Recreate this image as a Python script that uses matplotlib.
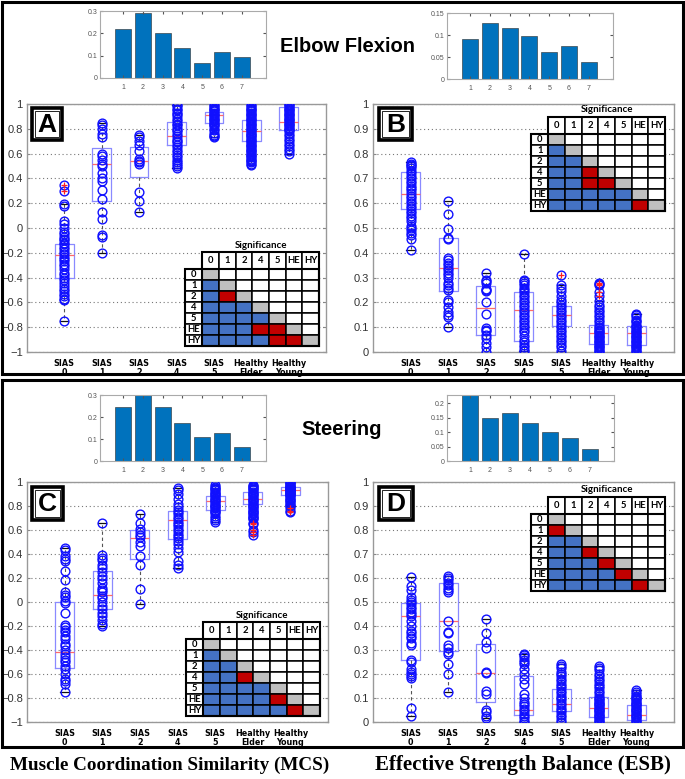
import numpy as np
import matplotlib
matplotlib.use("Agg")
import matplotlib.pyplot as plt
from matplotlib.patches import Rectangle

plt.rcParams['font.family'] = ['Liberation Sans', 'DejaVu Sans']

W, H = 685, 779

# ---------------- data ----------------
groups = ["SIAS\n0", "SIAS\n1", "SIAS\n2", "SIAS\n4", "SIAS\n5", "Healthy\nElder", "Healthy\nYoung"]
sig_labels = ["0", "1", "2", "4", "5", "HE", "HY"]

# histogram-like bar insets
bar_x = [1, 2, 3, 4, 5, 6, 7]
bars_elbow_mcs = [0.22, 0.29, 0.20, 0.135, 0.065, 0.115, 0.095]
bars_elbow_esb = [0.09, 0.127, 0.115, 0.097, 0.062, 0.075, 0.038]
bars_steer_mcs = [0.245, 0.30, 0.245, 0.172, 0.11, 0.127, 0.063]
bars_steer_esb = [0.229, 0.148, 0.166, 0.132, 0.101, 0.081, 0.040]

# Panel A (Elbow, MCS)
A_points = [
    [0.35, 0.30, 0.19, 0.18, 0.06, 0.03, 0.0, -0.03, -0.05, -0.07, -0.09, -0.10, -0.12, -0.13, -0.15, -0.17,
     -0.19, -0.21, -0.23, -0.25, -0.27, -0.29, -0.31, -0.33, -0.36, -0.38, -0.40, -0.42, -0.44, -0.47, -0.49,
     -0.51, -0.53, -0.55, -0.57, -0.58, -0.75],
    [0.85, 0.83, 0.80, 0.76, 0.73, 0.60, 0.58, 0.55, 0.52, 0.50, 0.44, 0.40, 0.38, 0.31, 0.23, 0.13, 0.07, -0.06, -0.07, -0.20],
    [0.75, 0.73, 0.70, 0.67, 0.62, 0.56, 0.54, 0.53, 0.52, 0.29, 0.22, 0.13],
    [0.99, 0.98, 0.96, 0.95, 0.93, 0.92, 0.90, 0.88, 0.86, 0.84, 0.83, 0.81, 0.79, 0.78, 0.76, 0.74, 0.72, 0.70,
     0.69, 0.67, 0.65, 0.63, 0.61, 0.59, 0.57, 0.55, 0.53, 0.52, 0.50, 0.48],
    [0.99, 0.985, 0.97, 0.96, 0.95, 0.94, 0.93, 0.92, 0.915, 0.90, 0.89, 0.88, 0.87, 0.86, 0.85, 0.84, 0.83, 0.82,
     0.80, 0.79, 0.77, 0.75, 0.74, 0.73],
    [0.99, 0.98, 0.97, 0.96, 0.95, 0.94, 0.93, 0.92, 0.91, 0.90, 0.89, 0.88, 0.87, 0.86, 0.85, 0.84, 0.83, 0.82,
     0.81, 0.80, 0.79, 0.78, 0.77, 0.76, 0.75, 0.74, 0.73, 0.72, 0.71, 0.70, 0.69, 0.68, 0.67, 0.66, 0.65, 0.64,
     0.63, 0.62, 0.61, 0.60, 0.59, 0.58, 0.57, 0.56, 0.55, 0.54, 0.53, 0.52, 0.51],
    [1.0, 0.99, 0.98, 0.97, 0.96, 0.95, 0.94, 0.93, 0.92, 0.91, 0.90, 0.89, 0.88, 0.87, 0.86, 0.85, 0.84, 0.83,
     0.82, 0.81, 0.80, 0.79, 0.78, 0.76, 0.74, 0.72, 0.70, 0.68, 0.66, 0.64, 0.62, 0.60],
]
A_out = [[0.35, 0.30], [], [], [], [], [], []]
A_med = [-0.22, 0.52, 0.54, 0.744, 0.911, 0.782, 0.855]
A_q1 = [-0.40, 0.217, 0.413, 0.669, 0.844, 0.70, 0.79]
A_q3 = [-0.125, 0.642, 0.655, 0.857, 0.933, 0.871, 0.978]
A_wlo = [-0.75, -0.20, 0.13, 0.48, 0.73, 0.51, 0.60]
A_whi = [0.19, 0.85, 0.75, 0.99, 0.99, 0.99, 1.0]
sig_A = ["G", "BG", "BRG", "BBBG", "BBBBG", "BBBRRG", "BBBBRRG"]

# Panel B (Elbow, ESB)
B_points = [
    [0.765, 0.76, 0.755, 0.75, 0.74, 0.73, 0.72, 0.71, 0.70, 0.69, 0.68, 0.67, 0.66, 0.655, 0.64, 0.63, 0.62,
     0.61, 0.60, 0.59, 0.58, 0.57, 0.56, 0.55, 0.54, 0.53, 0.51, 0.50, 0.49, 0.48, 0.47, 0.455, 0.41],
    [0.61, 0.555, 0.495, 0.46, 0.455, 0.38, 0.37, 0.36, 0.35, 0.34, 0.33, 0.32, 0.31, 0.30, 0.28, 0.27, 0.26,
     0.25, 0.21, 0.20, 0.18, 0.16, 0.15, 0.14, 0.10],
    [0.32, 0.29, 0.285, 0.28, 0.255, 0.25, 0.245, 0.20, 0.155, 0.095, 0.09, 0.085, 0.07, 0.055, 0.035, 0.02, 0.0],
    [0.395, 0.29, 0.285, 0.28, 0.27, 0.26, 0.25, 0.24, 0.23, 0.22, 0.21, 0.20, 0.19, 0.18, 0.17, 0.16, 0.15,
     0.14, 0.13, 0.12, 0.11, 0.10, 0.09, 0.08, 0.065, 0.05, 0.04, 0.03, 0.02, 0.01, 0.005],
    [0.31, 0.27, 0.26, 0.245, 0.225, 0.21, 0.20, 0.19, 0.18, 0.17, 0.16, 0.15, 0.14, 0.13, 0.12, 0.11, 0.10,
     0.09, 0.08, 0.07, 0.06, 0.05, 0.04, 0.03, 0.02, 0.005],
    [0.28, 0.275, 0.27, 0.24, 0.225, 0.205, 0.19, 0.18, 0.17, 0.16, 0.15, 0.14, 0.13, 0.12, 0.11, 0.10, 0.095,
     0.09, 0.085, 0.08, 0.075, 0.07, 0.065, 0.06, 0.055, 0.05, 0.045, 0.04, 0.035, 0.03, 0.025, 0.02, 0.015,
     0.01, 0.005, 0.0],
    [0.155, 0.15, 0.14, 0.13, 0.125, 0.12, 0.11, 0.105, 0.10, 0.095, 0.09, 0.085, 0.08, 0.075, 0.07, 0.065,
     0.06, 0.055, 0.05, 0.045, 0.04, 0.035, 0.03, 0.025, 0.02, 0.015, 0.01, 0.005, 0.0],
]
B_out = [[], [], [], [], [0.31], [0.28, 0.275, 0.27, 0.24, 0.225], []]
B_med = [0.638, 0.339, 0.179, 0.168, 0.151, 0.078, 0.078]
B_q1 = [0.575, 0.245, 0.067, 0.043, 0.105, 0.031, 0.03]
B_q3 = [0.724, 0.458, 0.266, 0.24, 0.186, 0.11, 0.106]
B_wlo = [0.41, 0.10, 0.0, 0.005, 0.005, 0.0, 0.0]
B_whi = [0.765, 0.61, 0.32, 0.395, 0.27, 0.205, 0.155]
sig_B = ["G", "BG", "BBG", "BBRG", "BBRRG", "BBBBBG", "BBBBBRG"]

# Panel C (Steering, MCS)
C_points = [
    [0.45, 0.43, 0.38, 0.36, 0.34, 0.26, 0.18, 0.08, 0.06, 0.04, 0.01, -0.01, -0.09, -0.19, -0.21, -0.23,
     -0.25, -0.28, -0.31, -0.35, -0.37, -0.40, -0.43, -0.46, -0.48, -0.50, -0.53, -0.56, -0.60, -0.64, -0.66,
     -0.68, -0.75],
    [0.66, 0.39, 0.37, 0.35, 0.31, 0.28, 0.25, 0.22, 0.19, 0.16, 0.12, 0.10, 0.08, 0.05, 0.03, 0.0, -0.03,
     -0.06, -0.09, -0.12, -0.15, -0.18, -0.20],
    [0.73, 0.66, 0.61, 0.58, 0.56, 0.54, 0.50, 0.47, 0.38, 0.31, 0.11, -0.02],
    [0.95, 0.93, 0.90, 0.86, 0.82, 0.79, 0.77, 0.75, 0.73, 0.71, 0.69, 0.67, 0.65, 0.63, 0.61, 0.59, 0.57,
     0.55, 0.53, 0.51, 0.48, 0.45, 0.42, 0.34, 0.31, 0.28],
    [0.975, 0.96, 0.95, 0.94, 0.93, 0.92, 0.91, 0.90, 0.89, 0.88, 0.87, 0.86, 0.85, 0.84, 0.83, 0.82, 0.81,
     0.80, 0.79, 0.78, 0.77, 0.76, 0.75, 0.74, 0.72, 0.70, 0.68, 0.67],
    [0.975, 0.97, 0.96, 0.95, 0.94, 0.93, 0.92, 0.91, 0.90, 0.89, 0.88, 0.87, 0.86, 0.85, 0.84, 0.83, 0.82,
     0.81, 0.80, 0.79, 0.78, 0.77, 0.76, 0.75, 0.74, 0.73, 0.72, 0.71, 0.70, 0.69, 0.66, 0.65, 0.60, 0.58, 0.56],
    [1.0, 0.995, 0.99, 0.98, 0.97, 0.965, 0.96, 0.955, 0.95, 0.945, 0.94, 0.935, 0.93, 0.925, 0.92, 0.915,
     0.91, 0.905, 0.90, 0.895, 0.89, 0.88, 0.87, 0.86, 0.85, 0.84, 0.83, 0.82, 0.81, 0.80, 0.78, 0.76, 0.75],
]
C_out = [[], [], [], [], [], [0.66, 0.65, 0.60, 0.58, 0.56], [0.78, 0.76, 0.75]]
C_med = [-0.42, 0.056, 0.532, 0.68, 0.838, 0.858, 0.93]
C_q1 = [-0.546, -0.056, 0.357, 0.524, 0.769, 0.816, 0.894]
C_q3 = [0.0, 0.262, 0.60, 0.755, 0.886, 0.914, 0.958]
C_wlo = [-0.75, -0.20, -0.02, 0.28, 0.67, 0.69, 0.80]
C_whi = [0.45, 0.66, 0.73, 0.95, 0.975, 0.975, 1.0]
sig_C = ["G", "BG", "BBG", "BBRG", "BBBBG", "BBBBRG", "BBBBBRG"]

# Panel D (Steering, ESB)
D_points = [
    [0.605, 0.565, 0.55, 0.52, 0.51, 0.50, 0.49, 0.48, 0.47, 0.46, 0.45, 0.44, 0.42, 0.40, 0.38, 0.37, 0.36,
     0.35, 0.33, 0.32, 0.26, 0.25, 0.22, 0.21, 0.20, 0.19, 0.185, 0.06, 0.025],
    [0.61, 0.60, 0.59, 0.58, 0.57, 0.56, 0.55, 0.54, 0.42, 0.375, 0.37, 0.32, 0.31, 0.29, 0.285, 0.24, 0.20, 0.125],
    [0.43, 0.37, 0.335, 0.31, 0.21, 0.205, 0.13, 0.115, 0.05, 0.04, 0.025, 0.015],
    [0.285, 0.28, 0.27, 0.26, 0.25, 0.24, 0.22, 0.20, 0.18, 0.16, 0.115, 0.10, 0.085, 0.075, 0.065, 0.055,
     0.045, 0.035, 0.025, 0.015, 0.005, 0.0],
    [0.24, 0.235, 0.225, 0.21, 0.20, 0.19, 0.18, 0.17, 0.16, 0.15, 0.14, 0.13, 0.12, 0.11, 0.10, 0.09, 0.08,
     0.07, 0.06, 0.05, 0.04, 0.03, 0.02, 0.01, 0.0],
    [0.235, 0.225, 0.215, 0.20, 0.19, 0.18, 0.17, 0.16, 0.15, 0.14, 0.13, 0.12, 0.11, 0.10, 0.095, 0.09, 0.085,
     0.08, 0.075, 0.07, 0.065, 0.06, 0.055, 0.05, 0.045, 0.04, 0.035, 0.03, 0.025, 0.02, 0.015, 0.01, 0.005, 0.0],
    [0.135, 0.125, 0.115, 0.11, 0.105, 0.10, 0.095, 0.09, 0.085, 0.08, 0.075, 0.07, 0.065, 0.06, 0.055, 0.05,
     0.045, 0.04, 0.035, 0.03, 0.025, 0.02, 0.015, 0.01, 0.005, 0.0],
]
D_out = [[], [], [], [], [], [], []]
D_med = [0.443, 0.422, 0.206, 0.052, 0.077, 0.06, 0.031]
D_q1 = [0.26, 0.297, 0.084, 0.028, 0.046, 0.021, 0.01]
D_q3 = [0.497, 0.58, 0.327, 0.192, 0.137, 0.104, 0.072]
D_wlo = [0.025, 0.125, 0.015, 0.0, 0.0, 0.0, 0.0]
D_whi = [0.605, 0.61, 0.43, 0.285, 0.24, 0.235, 0.135]
sig_D = ["G", "RG", "BBG", "BBRG", "BBBRG", "BBBBRG", "BBBBBRG"]

yt_mcs = [-1, -0.8, -0.6, -0.4, -0.2, 0, 0.2, 0.4, 0.6, 0.8, 1]
yt_esb = [0, 0.1, 0.2, 0.3, 0.4, 0.5, 0.6, 0.7, 0.8, 0.9, 1]

# ---------------- layout helpers ----------------
fig = plt.figure(figsize=(W / 100, H / 100), dpi=100)


def rect(x0, y0, x1, y1):
    return [x0 / W, 1 - y1 / H, (x1 - x0) / W, (y1 - y0) / H]


def fmt(v):
    s = f"{v:g}"
    return s.replace("-", "\u2212")


def box_panel(r, pts, out, med, q1, q3, wlo, whi, yt, ylim):
    ax = fig.add_axes(rect(*r))
    stats = []
    for i in range(7):
        stats.append(dict(med=med[i], q1=q1[i], q3=q3[i], whislo=wlo[i], whishi=whi[i], fliers=[]))
    ax.bxp(stats, positions=range(1, 8), widths=0.5, showfliers=False, capwidths=0.22,
           boxprops=dict(color='#8a8aff', lw=0.9),
           medianprops=dict(color='#ff6a6a', lw=0.9),
           whiskerprops=dict(color='#555555', lw=0.8, ls=(0, (3, 2.5))),
           capprops=dict(color='#111111', lw=0.9))
    for i, v in enumerate(pts):
        ax.plot(np.full(len(v), i + 1), v, 'o', mfc='none', mec='#1010ff', ms=6.3, mew=1.0, zorder=3)
    for i, v in enumerate(out):
        if v:
            ax.plot(np.full(len(v), i + 1), v, '+', color='#ff2020', ms=5, mew=0.9, zorder=4)
    ax.set_xlim(0, 8)
    ax.set_ylim(*ylim)
    ax.set_yticks(yt)
    ax.set_yticklabels([fmt(v) for v in yt], fontsize=8, color='#333333')
    ax.set_xticks(range(1, 8))
    ax.set_xticklabels(groups, fontsize=5.8, fontweight='bold', family='DejaVu Sans', linespacing=0.95)
    ax.tick_params(axis='x', length=0, pad=5)
    ax.tick_params(axis='y', direction='in', length=2.5, right=True, color='#888888', pad=3)
    ax.yaxis.grid(True, ls=(0, (1, 2.5)), color='#777777', lw=0.8)
    ax.set_axisbelow(True)
    for s in ax.spines.values():
        s.set_color('#999999')
        s.set_linewidth(1.0)
    return ax


def bar_inset(r, vals, ylim, yt, ytl):
    ax = fig.add_axes(rect(*r))
    ax.bar(bar_x, vals, width=0.8, color='#0072BD', edgecolor='#2a2a2a', lw=0.4)
    ax.set_xlim(-0.16, 8.22)
    ax.set_ylim(*ylim)
    ax.set_xticks(bar_x)
    ax.set_yticks(yt)
    ax.set_yticklabels(ytl)
    ax.tick_params(labelsize=5, colors='#555555', direction='in', length=2, top=True, right=True, pad=2)
    ax.tick_params(axis='x', pad=4)
    for s in ax.spines.values():
        s.set_color('#aaaaaa')
        s.set_linewidth(0.8)
    return ax


def letter_box(r, letter):
    ax = fig.add_axes(rect(*r))
    ax.set_xlim(0, 1)
    ax.set_ylim(0, 1)
    ax.axis('off')
    ax.add_patch(Rectangle((0, 0), 1, 1, fill=True, fc='white', ec='black', lw=2.6,
                           transform=ax.transAxes, clip_on=False))
    ax.add_patch(Rectangle((0.1, 0.1), 0.8, 0.8, fill=False, ec='black', lw=0.6,
                           transform=ax.transAxes, clip_on=False))
    ax.text(0.5, 0.47, letter, ha='center', va='center', fontsize=19, fontweight='bold',
            family='Liberation Sans')


colors = {'G': '#BFBFBF', 'B': '#4472C4', 'R': '#C00000', 'W': 'white'}


def sig_table(x0, y0, sig):
    lw_col = 17.3
    cw = 16.67
    hh = 16.7
    rh = 11.0
    tw = lw_col + 7 * cw
    th = hh + 7 * rh
    ax = fig.add_axes(rect(x0, y0, x0 + tw, y0 + th))
    ax.set_xlim(0, tw)
    ax.set_ylim(th, 0)
    ax.axis('off')
    kw = dict(ec='black', lw=1.1, clip_on=False)
    fkw = dict(fontsize=6.8, fontweight='bold', family='Lato', ha='center', va='center')
    for k in range(7):
        x = lw_col + k * cw
        ax.add_patch(Rectangle((x, 0), cw, hh, fc='white', **kw))
        ax.text(x + cw / 2, hh / 2, sig_labels[k], **fkw)
    for r_ in range(7):
        y = hh + r_ * rh
        ax.add_patch(Rectangle((0, y), lw_col, rh, fc='white', **kw))
        ax.text(lw_col / 2, y + rh / 2, sig_labels[r_], **fkw)
        row = sig[r_]
        for k in range(7):
            c = row[k] if k < len(row) else 'W'
            ax.add_patch(Rectangle((lw_col + k * cw, y), cw, rh, fc=colors[c], **kw))
    ax.add_patch(Rectangle((lw_col, 0), 7 * cw, th, fill=False, ec='black', lw=1.5, clip_on=False))
    ax.add_patch(Rectangle((0, hh), tw, th - hh, fill=False, ec='black', lw=1.5, clip_on=False))
    ax.text(lw_col + 3.5 * cw, -7, "Significance", fontsize=7, fontweight='bold', family='Lato',
            ha='center', va='center')


# ---------------- section frames ----------------
for (x0, y0, x1, y1) in [(2, 2, 683, 374), (2, 380, 683, 747)]:
    fig.add_artist(Rectangle((x0 / W, 1 - y1 / H), (x1 - x0) / W, (y1 - y0) / H, fill=False,
                             ec='black', lw=2.2, transform=fig.transFigure))

# ---------------- bar insets ----------------
bar_inset((100, 11, 266, 78), bars_elbow_mcs, (0, 0.3), [0, 0.1, 0.2, 0.3], ["0", "0.1", "0.2", "0.3"])
bar_inset((447, 13, 613, 79), bars_elbow_esb, (0, 0.15), [0, 0.05, 0.1, 0.15], ["0", "0.05", "0.1", "0.15"])
bar_inset((100, 395, 266, 461), bars_steer_mcs, (0, 0.3), [0, 0.1, 0.2, 0.3], ["0", "0.1", "0.2", "0.3"])
bar_inset((447, 395, 614, 461), bars_steer_esb, (0, 0.229), [0, 0.05, 0.1, 0.15, 0.2],
          ["0", "0.05", "0.1", "0.15", "0.2"])

fig.text(348 / W, 1 - 47 / H, "Elbow Flexion", ha='center', va='center', fontsize=14.5,
         fontweight='bold', family='Liberation Sans')
fig.text(342 / W, 1 - 430 / H, "Steering", ha='center', va='center', fontsize=14.5,
         fontweight='bold', family='Liberation Sans')

# ---------------- box panels ----------------
box_panel((27, 104, 326, 352), A_points, A_out, A_med, A_q1, A_q3, A_wlo, A_whi, yt_mcs, (-1, 1))
box_panel((373, 104, 674, 352), B_points, B_out, B_med, B_q1, B_q3, B_wlo, B_whi, yt_esb, (0, 1))
box_panel((27, 482, 328, 722), C_points, C_out, C_med, C_q1, C_q3, C_wlo, C_whi, yt_mcs, (-1, 1))
box_panel((373, 482, 674, 722), D_points, D_out, D_med, D_q1, D_q3, D_wlo, D_whi, yt_esb, (0, 1))

letter_box((32, 108, 62, 140), "A")
letter_box((379, 108, 412, 140), "B")
letter_box((32, 487, 63, 520), "C")
letter_box((379, 487, 413, 520), "D")

sig_table(185, 252, sig_A)
sig_table(531, 117, sig_B)
sig_table(186, 622, sig_C)
sig_table(531, 497, sig_D)

fig.text(170 / W, 1 - 765 / H, "Muscle Coordination Similarity (MCS)", ha='center', va='center',
         fontsize=13.8, fontweight='bold', family='Liberation Serif')
fig.text(523 / W, 1 - 765 / H, "Effective Strength Balance (ESB)", ha='center', va='center',
         fontsize=15, fontweight='bold', family='Liberation Serif')

fig.savefig("out.png", dpi=100)
